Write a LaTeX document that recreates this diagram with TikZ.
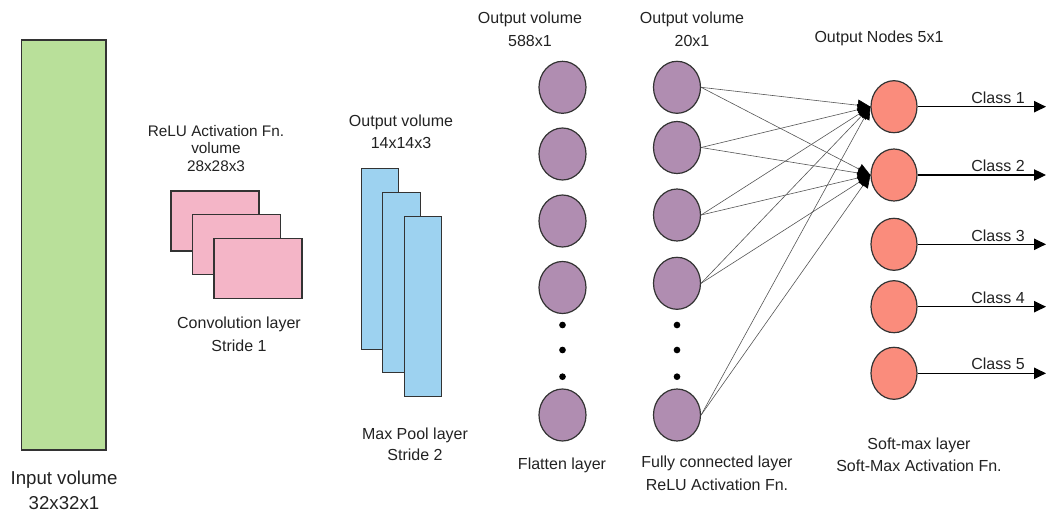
\documentclass[tikz,border=0pt]{standalone}
\usepackage{fontspec}
\setmainfont{Liberation Sans}
\usetikzlibrary{arrows.meta,shapes.geometric}

\definecolor{inputgreen}{HTML}{B9E09A}
\definecolor{convpink}{HTML}{F4B5C7}
\definecolor{poolblue}{HTML}{9DD2F0}
\definecolor{neuronpurple}{HTML}{B08DB1}
\definecolor{outsalmon}{HTML}{FA8C7C}
\definecolor{edgegray}{HTML}{333333}
\definecolor{linkgray}{HTML}{555555}
\definecolor{textgray}{HTML}{222222}

\begin{document}
\begin{tikzpicture}[x=0.75pt,y=-0.75pt,
  box/.style={draw=edgegray, line width=0.9pt, inner sep=0pt},
  neuron/.style={ellipse, draw=edgegray, line width=0.9pt, fill=neuronpurple,
    minimum width=35.25pt, minimum height=39pt, inner sep=0pt},
  outnode/.style={neuron, fill=outsalmon, minimum width=34.5pt},
  dot/.style={circle, fill=black, minimum size=5pt, inner sep=0pt},
  lbl/.style={font=\fontsize{12}{17.25}\selectfont, align=center, text=textgray, inner sep=0pt},
  link/.style={draw=linkgray, line width=0.45pt, -{Triangle[length=9.5pt,width=8.5pt,black]}},
  classarrow/.style={draw=black, line width=0.9pt, -{Triangle[length=9pt,width=8.5pt]}},
]
\useasboundingbox (0,0) rectangle (1047,514);

% input volume
\node[box, fill=inputgreen, minimum width=63.5pt, minimum height=307.5pt] (input) at (63.65,245) {};
\node[lbl, font=\fontsize{14}{18.75}\selectfont] (inputlbl) at (64,490) {Input volume\\32x32x1};

% convolution feature maps
\node[box, fill=convpink, minimum width=66pt, minimum height=45pt] (conv1) at (215,221) {};
\node[box, fill=convpink, minimum width=66pt, minimum height=45pt] (conv2) at (236.5,244.5) {};
\node[box, fill=convpink, minimum width=66pt, minimum height=45pt] (conv3) at (258,268.5) {};
\node[lbl, font=\fontsize{11.5}{13.1}\selectfont] (convtop) at (216,148.5) {ReLU Activation Fn.\\volume\\28x28x3};
\node[lbl] (convlbl) at (239,334) {Convolution layer\\Stride 1};

% max pool maps
\node[box, fill=poolblue, minimum width=28.1pt, minimum height=135.4pt] (pool1) at (380,258.9) {};
\node[box, fill=poolblue, minimum width=28.1pt, minimum height=135.4pt] (pool2) at (401.4,282.5) {};
\node[box, fill=poolblue, minimum width=28.1pt, minimum height=135.4pt] (pool3) at (422.9,306.4) {};
\node[lbl, font=\fontsize{12}{16.5}\selectfont] (pooltop) at (401,132) {Output volume\\14x14x3};
\node[lbl, font=\fontsize{12}{16}\selectfont] (poollbl) at (415,444) {Max Pool layer\\Stride 2};

% flatten layer
\foreach \i/\y in {1/87.3, 2/154, 3/221, 4/287.5, 5/415}
  \node[neuron] (fl\i) at (562.5,\y) {};
\foreach \i/\y in {1/325, 2/350, 3/376.7}
  \node[dot] (fldot\i) at (562.5,\y) {};
\node[lbl] (fltop) at (530,29) {Output volume\\588x1};
\node[lbl] (fllbl) at (562,465) {Flatten layer};

% fully connected layer
\foreach \i/\y in {1/87.3, 2/147.5, 3/215, 4/283.3, 5/415}
  \node[neuron] (fc\i) at (677,\y) {};
\foreach \i/\y in {1/325, 2/350, 3/376.7}
  \node[dot] (fcdot\i) at (677,\y) {};
\node[lbl] (fctop) at (692,29) {Output volume\\20x1};
\node[lbl] (fclbl) at (717,473) {Fully connected layer\\ReLU Activation Fn.};

% soft-max output nodes
\foreach \i/\y in {1/106.7, 2/175, 3/244.3, 4/306.7, 5/373.3}
  \node[outnode] (out\i) at (894,\y) {};
\node[lbl] (outtop) at (879,38.3) {Output Nodes 5x1};
\node[lbl, font=\fontsize{12}{16.5}\selectfont] (outlbl) at (919,455) {Soft-max layer\\Soft-Max Activation Fn.};

% fully connected links into the first two outputs
\foreach \f in {1,...,5}
  \foreach \o in {1,2}
    \draw[link] (fc\f.east) -- (out\o.west);

% class outputs
\foreach \i/\y/\b in {1/106.7/103, 2/175/171.5, 3/244.3/241, 4/306.7/303, 5/373.3/369.5} {
  \coordinate (cend\i) at (1046,\y);
  \draw[classarrow] (out\i.east) -- (cend\i);
  \node[lbl, anchor=base east] (class\i) at (1025,\b) {Class \i};
}
\end{tikzpicture}
\end{document}
